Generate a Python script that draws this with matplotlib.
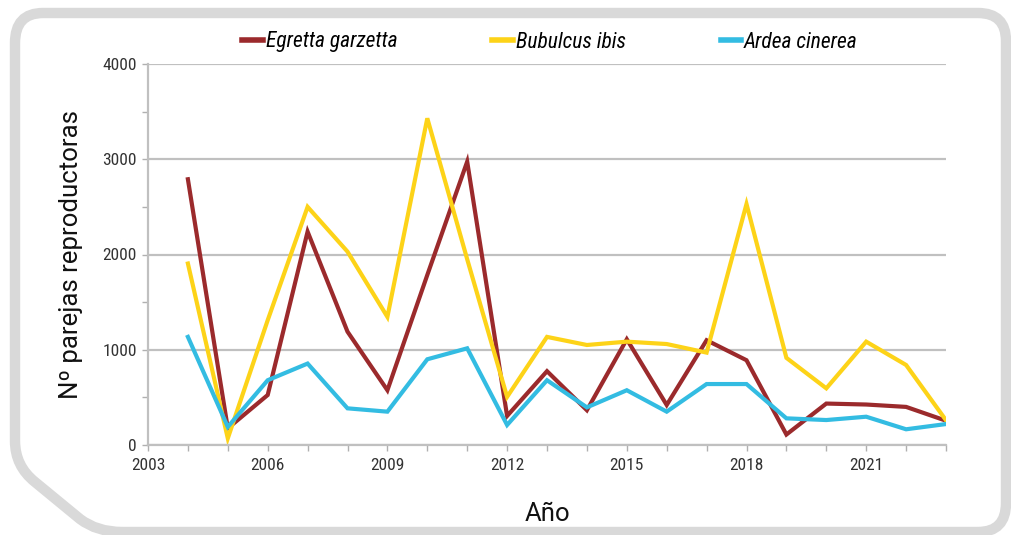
import matplotlib
matplotlib.use("Agg")
import matplotlib.pyplot as plt
from matplotlib.path import Path
from matplotlib.patches import PathPatch
from matplotlib.ticker import MultipleLocator

years = list(range(2004, 2024))
egretta = [2790, 175, 525, 2240, 1190, 575, 1785, 2975, 305, 775,
           365, 1110, 420, 1100, 890, 110, 435, 425, 400, 255]
bubulcus = [1905, 70, 1310, 2500, 2030, 1345, 3430, 1950, 505, 1135,
            1050, 1085, 1060, 970, 2530, 915, 595, 1085, 840, 260]
ardea = [1135, 190, 680, 855, 385, 350, 900, 1015, 210, 680,
         395, 575, 350, 640, 640, 280, 262, 297, 165, 220]
xticks = [2003, 2006, 2009, 2012, 2015, 2018, 2021]

narrow = ['Liberation Sans Narrow', 'Roboto Condensed', 'Roboto', 'DejaVu Sans']
plt.rcParams['font.family'] = narrow

W, H = 1011, 535
fig = plt.figure(figsize=(W / 100, H / 100), dpi=100)

# rounded frame with the cut corner, pixel coords from the top-left
def p(x, y):
    return (x / W, 1 - y / H)

verts = [p(15, 43), p(15, 13), p(43, 13),
         p(978, 13), p(1006, 13), p(1006, 41),
         p(1006, 503), p(1006, 532), p(978, 532),
         p(122, 532), p(97, 532), p(80, 519),
         p(35, 482), p(15, 466), p(15, 441),
         p(15, 43)]
codes = [Path.MOVETO, Path.CURVE3, Path.CURVE3,
         Path.LINETO, Path.CURVE3, Path.CURVE3,
         Path.LINETO, Path.CURVE3, Path.CURVE3,
         Path.LINETO, Path.CURVE3, Path.CURVE3,
         Path.LINETO, Path.CURVE3, Path.CURVE3,
         Path.CLOSEPOLY]
frame = PathPatch(Path(verts, codes), transform=fig.transFigure,
                  facecolor='white', edgecolor='#d9d9d9', lw=7.5, zorder=-5)
fig.patches.append(frame)

ax = fig.add_axes([148 / W, 90 / H, 798 / W, 381 / H], zorder=2)
ax.patch.set_alpha(0)

ax.plot(years, egretta, color='#9b2a2c', lw=3, label='Egretta garzetta', solid_joinstyle='miter')
ax.plot(years, bubulcus, color='#fdd318', lw=3, label='Bubulcus ibis', solid_joinstyle='miter')
ax.plot(years, ardea, color='#33bce2', lw=3, label='Ardea cinerea', solid_joinstyle='miter')

ax.set_xlim(2003, 2023)
ax.set_ylim(0, 4000)
ax.set_xticks(xticks)
ax.xaxis.set_minor_locator(MultipleLocator(1))
ax.set_yticks([0, 1000, 2000, 3000, 4000])
ax.yaxis.set_minor_locator(MultipleLocator(500))
ax.grid(axis='y', which='major', color='#c0c0c0', lw=1.6)
ax.set_axisbelow(True)

for s in ['top', 'right']:
    ax.spines[s].set_visible(False)
for s in ['left', 'bottom']:
    ax.spines[s].set_color('#c0c0c0')
    ax.spines[s].set_linewidth(1.6)

ax.tick_params(which='both', direction='out', color='#b0b0b0', length=4, width=1)
ax.tick_params(axis='x', which='both', labelsize=12.5, labelcolor='#333333', pad=5)
ax.tick_params(axis='y', which='both', labelsize=12.5, labelcolor='#333333', pad=4)

ax.set_ylabel('Nº parejas reproductoras', fontsize=18.5, family=['Roboto', 'DejaVu Sans'],
              color='#111111', labelpad=14)
ax.set_xlabel('Año', fontsize=18.5, family=['Roboto', 'DejaVu Sans'], color='#111111', labelpad=21)

leg = fig.legend(loc='center', bbox_to_anchor=(550 / W, 1 - 42 / H), ncol=3, frameon=False,
                 handlelength=0.95, handletextpad=0.15, columnspacing=4.4,
                 prop={'style': 'italic', 'size': 15.5, 'family': narrow})
for line in leg.get_lines():
    line.set_linewidth(4)

fig.savefig('out.png', dpi=100)
